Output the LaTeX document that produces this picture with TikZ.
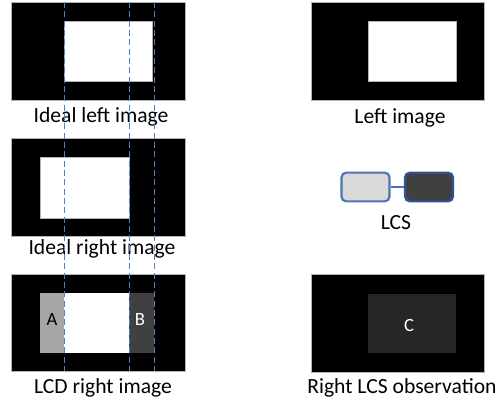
\documentclass[tikz,border=0pt]{standalone}
\usepackage{fontspec}
\setmainfont{Carlito}
\begin{document}
\begin{tikzpicture}[x=0.75pt,y=-0.75pt,
  screen/.style={fill=black,draw=gray!60,line width=0.4pt},
  lbl/.style={anchor=base,inner sep=0pt,font=\fontsize{16.2}{19}\selectfont},
  small/.style={anchor=base,inner sep=0pt,font=\fontsize{14}{16}\selectfont},
  guide/.style={draw={rgb,255:red,79;green,129;blue,189},line width=0.6pt,dash pattern=on 4.5pt off 2.5pt},
  lcsbox/.style={rounded corners=3.5pt,line width=1.6pt,minimum width=36pt,minimum height=21.5pt,inner sep=0pt}
]
\definecolor{lcsA}{RGB}{217,217,217}
\definecolor{lcsB}{RGB}{64,64,64}
\definecolor{lcsbA}{RGB}{74,117,176}
\definecolor{lcsbB}{RGB}{47,85,151}
\definecolor{linkc}{RGB}{68,114,196}
\useasboundingbox (0,0) rectangle (499,405);

% Ideal left image
\fill[screen] (11,2) rectangle (185,100);
\fill[white,draw=gray!60,line width=0.4pt] (64,21) rectangle (152,81);
\node[lbl] (t1) at (101,122) {Ideal left image};

% Ideal right image
\fill[screen] (11,138) rectangle (185,236);
\fill[white,draw=gray!60,line width=0.4pt] (40,157) rectangle (129,218);
\node[lbl] (t2) at (102,254) {Ideal right image};

% LCD right image
\fill[screen] (11,274) rectangle (185,371);
\fill[fill={rgb,255:red,166;green,166;blue,166}] (40,293) rectangle (64,353);
\fill[white] (64,293) rectangle (129,353);
\fill[fill={rgb,255:red,64;green,64;blue,64}] (129,293) rectangle (154,353);
\node[small] (a) at (52,325) {A};
\node[small,text=white] (b) at (140,325) {B};
\node[lbl] (t3) at (103,393) {LCD right image};

% guides
\coordinate (g1t) at (64,2);   \coordinate (g1b) at (64,371);
\coordinate (g2t) at (129,2);  \coordinate (g2b) at (129,371);
\coordinate (g3t) at (154,2);  \coordinate (g3b) at (154,371);
\draw[guide] (g1t) -- (g1b);
\draw[guide] (g2t) -- (g2b);
\draw[guide] (g3t) -- (g3b);

% Left image
\fill[screen] (311,2) rectangle (484,100);
\fill[white,draw=gray!60,line width=0.4pt] (368,21) rectangle (456,81);
\node[lbl] (t4) at (400,123) {Left image};

% LCS
\node[lcsbox,fill=lcsA,draw=lcsbA] (la) at (365.5,187) {};
\node[lcsbox,fill=lcsB,draw=lcsbB] (lb) at (429,187) {};
\draw[linkc,line width=1.6pt] (la) -- (lb);
\node[lbl] (t5) at (396,229) {LCS};

% Right LCS observation
\fill[screen] (311,274) rectangle (484,372);
\fill[fill={rgb,255:red,38;green,38;blue,38}] (368,294) rectangle (456,353);
\node[small,text=white] (c) at (409,331) {C};
\node[lbl] (t6) at (402,393) {Right LCS observation};
\end{tikzpicture}
\end{document}
